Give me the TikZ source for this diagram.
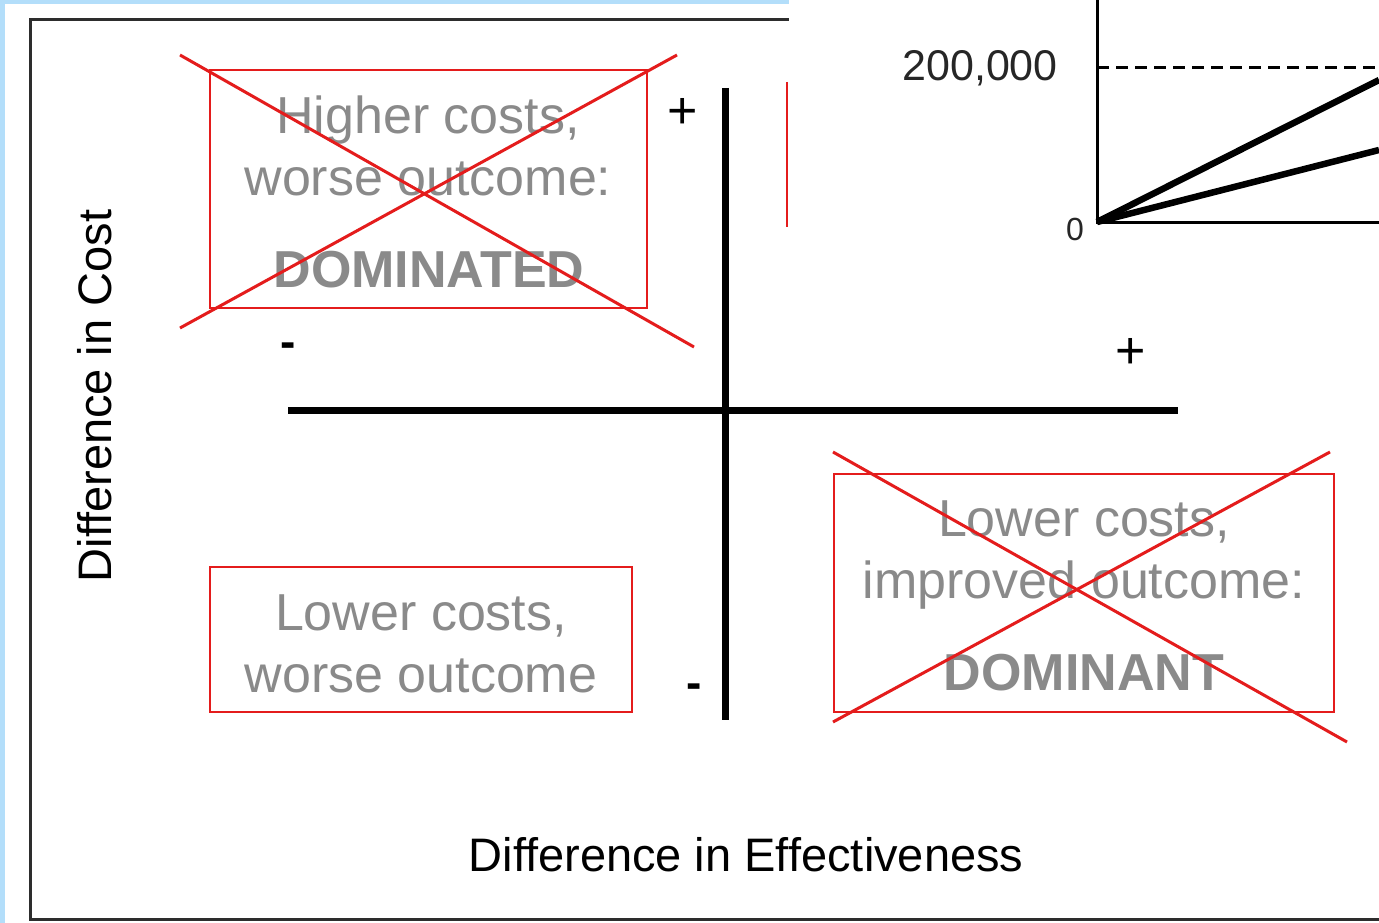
\documentclass[tikz,border=0pt]{standalone}
\usepackage{fontspec}
\setmainfont{Liberation Sans}
\definecolor{lblue}{RGB}{179,222,250}
\definecolor{fgray}{RGB}{138,138,138}
\definecolor{xred}{RGB}{228,28,28}
\definecolor{framec}{RGB}{45,45,45}
\begin{document}
\begin{tikzpicture}[x=1pt,y=-1pt,
  qbox/.style={draw=xred, line width=2pt, inner sep=0pt},
  xline/.style={draw=xred, line width=3pt},
  gtext/.style={text=fgray, inner sep=0pt, anchor=base, font=\fontsize{52}{60}\selectfont},
  btext/.style={text=fgray, inner sep=0pt, anchor=base, font=\fontsize{52}{60}\selectfont\bfseries},
  lab/.style={text=black, inner sep=0pt, anchor=base, font=\fontsize{47}{54}\selectfont},
  plussign/.style={text=black, inner sep=0pt, font=\fontsize{52}{56}\selectfont},
  minussign/.style={text=black, inner sep=0pt, font=\fontsize{46}{50}\selectfont\bfseries},
  axis/.style={line width=7pt, black},
  chartline/.style={line width=3pt, black},
]
\useasboundingbox (0,0) rectangle (1379,923);
\fill[white] (0,0) rectangle (1379,923);
\fill[lblue] (0,0) rectangle (5,923);
\fill[lblue] (0,0) rectangle (789,4);
\draw[framec, line width=3pt] (1379,20) -- (30,20) -- (30,919) -- (1379,919);

% axes
\coordinate (vtop) at (725,88);
\coordinate (vbot) at (725,720);
\coordinate (hleft) at (288,410);
\coordinate (hright) at (1178,410);
\draw[axis] (vtop) -- (vbot);
\draw[axis] (hleft) -- (hright);

% signs
\node[plussign] (pTop) at (683,113) {+};
\node[minussign] (mLeft) at (288,350) {-};
\node[plussign] (pRight) at (1131,353) {+};
\node[minussign] (mBot) at (694,691) {-};

% top-left box
\node[qbox, minimum width=437pt, minimum height=238pt] (tl) at (428.5,189) {};
\node[gtext] (tl1) at (428,134) {Higher costs,};
\node[gtext] (tl2) at (428,196) {worse outcome:};
\node[btext] (tl3) at (429,287) {DOMINATED};
\coordinate (tlA) at (180,55);
\coordinate (tlB) at (694,347);
\coordinate (tlC) at (180,328);
\coordinate (tlD) at (677,55);
\draw[xline] (tlA) -- (tlB);
\draw[xline] (tlC) -- (tlD);

% bottom-left box
\node[qbox, minimum width=422pt, minimum height=145pt] (bl) at (421,639.5) {};
\node[gtext] (bl1) at (421,630) {Lower costs,};
\node[gtext] (bl2) at (421,692) {worse outcome};

% bottom-right box
\node[qbox, minimum width=500pt, minimum height=238pt] (br) at (1084,593) {};
\node[gtext] (br1) at (1084,536) {Lower costs,};
\node[gtext] (br2) at (1084,598) {improved outcome:};
\node[btext] (br3) at (1084,690) {DOMINANT};
\coordinate (brA) at (833,452);
\coordinate (brB) at (1347,742);
\coordinate (brC) at (833,722);
\coordinate (brD) at (1330,452);
\draw[xline] (brA) -- (brB);
\draw[xline] (brC) -- (brD);

% axis labels
\node[lab, rotate=90] (ylab) at (111,396) {Difference in Cost};
\node[lab] (xlab) at (746,871) {Difference in Effectiveness};

% overlay chart snippet
\fill[white] (789,0) rectangle (1379,232);
\coordinate (redT) at (787,82);
\coordinate (redB) at (787,227);
\draw[xred, line width=2pt] (redT) -- (redB);
\coordinate (org) at (1097,222);
\coordinate (ytop) at (1097,0);
\coordinate (xend) at (1379,222);
\coordinate (dl) at (1097,68);
\coordinate (dr) at (1379,68);
\coordinate (l1) at (1379,80);
\coordinate (l2) at (1379,150);
\draw[chartline] (ytop) -- (org) -- (xend);
\draw[chartline, dash pattern=on 12pt off 7pt] (dl) -- (dr);
\draw[line width=6.5pt, black] (org) -- (l1);
\draw[line width=6.5pt, black] (org) -- (l2);
\node[text=black!85, inner sep=0pt, anchor=east, font=\fontsize{43}{46}\selectfont] (y200) at (1058,68) {200,000};
\node[text=black!85, inner sep=0pt, font=\fontsize{32}{34}\selectfont] (y0) at (1075,229) {0};
\end{tikzpicture}
\end{document}
